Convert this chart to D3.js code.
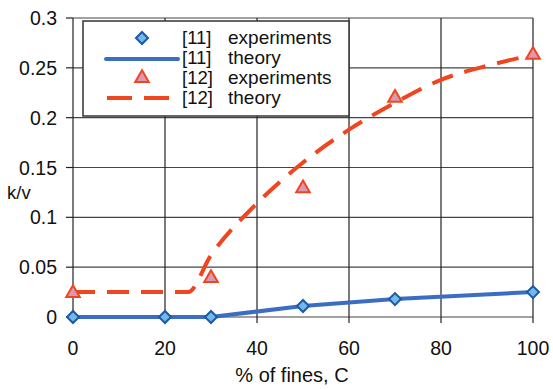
<!DOCTYPE html>
<html><head><meta charset="utf-8">
<script src="https://cdn.jsdelivr.net/npm/d3@7"></script>
<style>body{margin:0;background:#fff}svg{display:block}text{font-family:Arial,"Liberation Sans",sans-serif;fill:#111}</style>
</head><body>
<svg id="c" width="553" height="389"></svg>
<script>
const xTicks = [0, 20, 40, 60, 80, 100];
const yTicks = [0, 0.05, 0.1, 0.15, 0.2, 0.25, 0.3];
const yTickLabels = ["0", "0.05", "0.1", "0.15", "0.2", "0.25", "0.3"];
const expC = [0, 20, 30, 50, 70, 100];
const exp11 = [0, 0, 0, 0.011, 0.018, 0.025];
const theoryC11 = [0, 20, 30, 50, 70, 100];
const theory11 = [0, 0, 0, 0.011, 0.018, 0.025];
const expC12 = [0, 30, 50, 70, 100];
const exp12 = [0.024, 0.039, 0.129, 0.22, 0.263];
const theoryC12 = [0, 25, 30, 40, 50, 60, 70, 80, 90, 100];
const theory12 = [0.025, 0.025, 0.062, 0.114, 0.155, 0.188, 0.215, 0.238, 0.252, 0.263];
const legendRefs = ["[11]", "[11]", "[12]", "[12]"];
const legendLabels = ["experiments", "theory", "experiments", "theory"];
const xLabel = "% of fines, C";
const yLabel = "k/v";

const svg = d3.select("#c");
const L = 73, R = 533, T = 18, B = 317;
const x = d3.scaleLinear().domain([0, 100]).range([L, R]);
const y = d3.scaleLinear().domain([0, 0.3]).range([B, T]);
const blue = "#3b6ec2", red = "#f0451e";

// grid
svg.append("g").selectAll("line").data(yTicks).join("line")
  .attr("x1", L).attr("x2", R).attr("y1", d => y(d)).attr("y2", d => y(d))
  .attr("stroke", "#444").attr("stroke-width", 1.2);
svg.append("g").selectAll("line").data(xTicks).join("line")
  .attr("x1", d => x(d)).attr("x2", d => x(d)).attr("y1", T).attr("y2", B + 6)
  .attr("stroke", "#222").attr("stroke-width", 1.2);
// y ticks
svg.append("g").selectAll("line").data(yTicks).join("line")
  .attr("x1", L - 7).attr("x2", L).attr("y1", d => y(d)).attr("y2", d => y(d))
  .attr("stroke", "#222").attr("stroke-width", 1.2);
svg.append("g").selectAll("text").data(yTicks).join("text")
  .attr("x", 57).attr("y", d => y(d) + 7).attr("text-anchor", "end")
  .attr("font-size", 19.5).text((d, i) => yTickLabels[i]);
svg.append("g").selectAll("text").data(xTicks).join("text")
  .attr("x", d => x(d)).attr("y", 355).attr("text-anchor", "middle")
  .attr("font-size", 19.5).text(d => d);
svg.append("text").attr("x", 292).attr("y", 382).attr("text-anchor", "middle")
  .attr("font-size", 20).text(xLabel);
svg.append("text").attr("x", 7).attr("y", 199).attr("font-size", 18.5).text(yLabel);

// lines
const line = d3.line().x(d => x(d[0])).y(d => y(d[1]));
svg.append("path").datum(theoryC11.map((c, i) => [c, theory11[i]]))
  .attr("d", line).attr("fill", "none").attr("stroke", blue).attr("stroke-width", 4);
svg.append("path").datum(theoryC12.map((c, i) => [c, theory12[i]]))
  .attr("d", d3.line().x(d => x(d[0])).y(d => y(d[1])).curve(d3.curveMonotoneX))
  .attr("fill", "none").attr("stroke", red).attr("stroke-width", 4).attr("stroke-dasharray", "22,12");

const diamond = d3.symbol().type(d3.symbolSquare).size(72)();
const tri = d3.symbol().type(d3.symbolTriangle).size(80)();
svg.append("g").selectAll("path").data(expC.map((c, i) => [c, exp11[i]])).join("path")
  .attr("d", diamond).attr("transform", d => `translate(${x(d[0])},${y(d[1])}) rotate(45)`)
  .attr("fill", "#74b8e8").attr("stroke", "#1d5aa6").attr("stroke-width", 2);
svg.append("g").selectAll("path").data(expC12.map((c, i) => [c, exp12[i]])).join("path")
  .attr("d", tri).attr("transform", d => `translate(${x(d[0])},${y(d[1])})`)
  .attr("fill", "#d79ab2").attr("stroke", red).attr("stroke-width", 2);

// legend
const lg = svg.append("g");
lg.append("rect").attr("x", 83).attr("y", 21).attr("width", 266).attr("height", 95)
  .attr("fill", "#fff").attr("stroke", "#333").attr("stroke-width", 1.5);
const rowY = [38, 59, 78, 98];
const textY = [44, 64, 84, 104];
lg.append("path").attr("d", diamond).attr("transform", `translate(142,${rowY[0]}) rotate(45)`)
  .attr("fill", "#74b8e8").attr("stroke", "#1d5aa6").attr("stroke-width", 2);
lg.append("line").attr("x1", 106).attr("x2", 178).attr("y1", rowY[1]).attr("y2", rowY[1])
  .attr("stroke", blue).attr("stroke-width", 4).attr("stroke-linecap", "round");
lg.append("path").attr("d", tri).attr("transform", `translate(142,${rowY[2]})`)
  .attr("fill", "#d79ab2").attr("stroke", red).attr("stroke-width", 2);
lg.append("line").attr("x1", 107).attr("x2", 177).attr("y1", rowY[3]).attr("y2", rowY[3])
  .attr("stroke", red).attr("stroke-width", 4).attr("stroke-dasharray", "25,12");
legendLabels.forEach((l, i) => {
  lg.append("text").attr("x", 182).attr("y", textY[i]).attr("font-size", 18.5).text(legendRefs[i]);
  lg.append("text").attr("x", 228).attr("y", textY[i]).attr("font-size", 19).text(l);
});
</script>
</body></html>
